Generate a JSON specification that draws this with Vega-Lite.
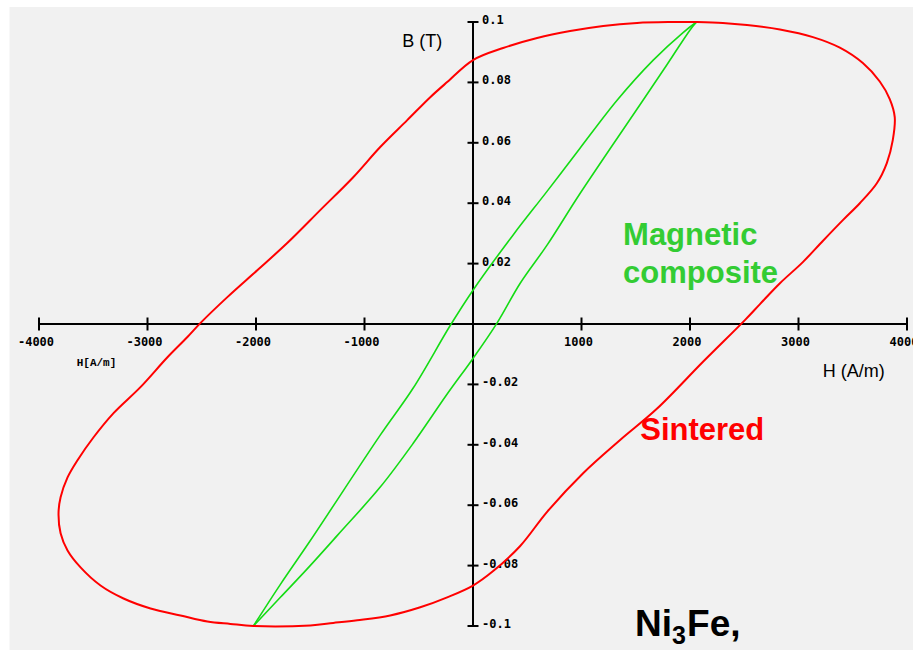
{
  "$schema": "https://vega.github.io/schema/vega-lite/v6.json",
  "width": 868,
  "height": 604,
  "autosize": {"type": "none"},
  "padding": {"left": 39, "top": 22, "right": 6, "bottom": 24},
  "background": "white",
  "config": {"view": {"stroke": null}},
  "datasets": {
    "bg": [{"H": -4272, "H2": 4300, "B": 0.105, "B2": -0.12}],
    "red": [
      {"i":0,"H":2303,"B":0.0997},
      {"i":1,"H":2065,"B":0.1},{"i":2,"H":1816,"B":0.1},{"i":3,"H":1512,"B":0.0997},{"i":4,"H":1200,"B":0.0987},
      {"i":5,"H":895,"B":0.0970},{"i":6,"H":591,"B":0.0947},{"i":7,"H":278,"B":0.0914},{"i":8,"H":0,"B":0.0874},
      {"i":9,"H":-238,"B":0.0801},{"i":10,"H":-394,"B":0.0751},{"i":11,"H":-606,"B":0.0675},{"i":12,"H":-855,"B":0.0586},
      {"i":13,"H":-1104,"B":0.0486},{"i":14,"H":-1408,"B":0.0377},{"i":15,"H":-1712,"B":0.0268},{"i":16,"H":-1988,"B":0.0178},
      {"i":17,"H":-2264,"B":0.0089},{"i":18,"H":-2513,"B":0.0003},{"i":19,"H":-2632,"B":-0.0043},{"i":20,"H":-2816,"B":-0.0110},
      {"i":21,"H":-3065,"B":-0.0209},{"i":22,"H":-3313,"B":-0.0295},{"i":23,"H":-3497,"B":-0.0375},{"i":24,"H":-3645,"B":-0.0451},
      {"i":25,"H":-3737,"B":-0.0508},{"i":26,"H":-3801,"B":-0.0574},{"i":27,"H":-3820,"B":-0.0627},{"i":28,"H":-3801,"B":-0.0693},
      {"i":29,"H":-3737,"B":-0.0750},{"i":30,"H":-3617,"B":-0.0806},{"i":31,"H":-3433,"B":-0.0866},{"i":32,"H":-3221,"B":-0.0909},
      {"i":33,"H":-2972,"B":-0.0942},{"i":34,"H":-2696,"B":-0.0965},{"i":35,"H":-2448,"B":-0.0985},{"i":36,"H":-2236,"B":-0.0993},
      {"i":37,"H":-2024,"B":-0.1},{"i":38,"H":-1499,"B":-0.0998},{"i":39,"H":-1288,"B":-0.0990},{"i":40,"H":-1067,"B":-0.0981},
      {"i":41,"H":-763,"B":-0.0965},{"i":42,"H":-486,"B":-0.0938},{"i":43,"H":-238,"B":-0.0905},{"i":44,"H":0,"B":-0.0866},
      {"i":45,"H":186,"B":-0.0818},{"i":46,"H":435,"B":-0.0735},{"i":47,"H":683,"B":-0.0622},{"i":48,"H":1015,"B":-0.0494},
      {"i":49,"H":1356,"B":-0.0384},{"i":50,"H":1697,"B":-0.0280},{"i":51,"H":2120,"B":-0.0125},{"i":52,"H":2506,"B":0.0013},
      {"i":53,"H":2645,"B":0.0066},{"i":54,"H":2829,"B":0.0135},{"i":55,"H":3040,"B":0.0205},{"i":56,"H":3224,"B":0.0275},
      {"i":57,"H":3409,"B":0.0344},{"i":58,"H":3565,"B":0.0400},{"i":59,"H":3722,"B":0.0466},{"i":60,"H":3814,"B":0.0533},
      {"i":61,"H":3869,"B":0.0609},{"i":62,"H":3887,"B":0.0685},{"i":63,"H":3841,"B":0.0745},{"i":64,"H":3749,"B":0.0803},
      {"i":65,"H":3593,"B":0.0864},{"i":66,"H":3381,"B":0.0915},{"i":67,"H":3133,"B":0.0950},{"i":68,"H":2829,"B":0.0975},
      {"i":69,"H":2525,"B":0.0990},{"i":70,"H":2303,"B":0.0997},{"i":71,"H":2065,"B":0.1},{"i":72,"H":1816,"B":0.1}
    ],
    "green": [
      {"br":"a","i":1,"H":-2024,"B":-0.1},{"br":"a","i":2,"H":-1775,"B":-0.0862},{"br":"a","i":3,"H":-1499,"B":-0.0717},{"br":"a","i":4,"H":-855,"B":-0.0368},
      {"br":"a","i":5,"H":-551,"B":-0.0212},{"br":"a","i":6,"H":-210,"B":-0.0005},{"br":"a","i":7,"H":0,"B":0.0112},{"br":"a","i":8,"H":370,"B":0.0295},
      {"br":"a","i":9,"H":684,"B":0.044},{"br":"a","i":10,"H":988,"B":0.0583},{"br":"a","i":11,"H":1328,"B":0.0741},{"br":"a","i":12,"H":1659,"B":0.0873},
      {"br":"a","i":13,"H":1936,"B":0.0965},{"br":"a","i":14,"H":2060,"B":0.1},
      {"br":"b","i":15,"H":2060,"B":0.1},{"br":"b","i":16,"H":1999,"B":0.0973},{"br":"b","i":17,"H":1816,"B":0.0874},{"br":"b","i":18,"H":1567,"B":0.0741},{"br":"b","i":19,"H":988,"B":0.0433},
      {"br":"b","i":20,"H":684,"B":0.0262},{"br":"b","i":21,"H":435,"B":0.0135},{"br":"b","i":22,"H":221,"B":0.0003},{"br":"b","i":23,"H":0,"B":-0.0114},
      {"br":"b","i":24,"H":-238,"B":-0.0232},{"br":"b","i":25,"H":-551,"B":-0.0395},{"br":"b","i":26,"H":-855,"B":-0.0540},{"br":"b","i":27,"H":-1250,"B":-0.070},
      {"br":"b","i":28,"H":-1526,"B":-0.081},{"br":"b","i":29,"H":-1775,"B":-0.0905},{"br":"b","i":30,"H":-2024,"B":-0.1}
    ],
    "axes": [
      {"H": -4000, "H2": 4000, "B": 0, "B2": 0},
      {"H": 0, "H2": 0, "B": -0.1, "B2": 0.1}
    ],
    "xt": [
      {"H":-4000,"B":0,"t":"-4000"},{"H":-3000,"B":0,"t":"-3000"},{"H":-2000,"B":0,"t":"-2000"},{"H":-1000,"B":0,"t":"-1000"},
      {"H":1000,"B":0,"t":"1000"},{"H":2000,"B":0,"t":"2000"},{"H":3000,"B":0,"t":"3000"},{"H":4000,"B":0,"t":"4000"}
    ],
    "yt": [
      {"H":0,"B":0.1,"t":"0.1"},{"H":0,"B":0.08,"t":"0.08"},{"H":0,"B":0.06,"t":"0.06"},{"H":0,"B":0.04,"t":"0.04"},
      {"H":0,"B":0.02,"t":"0.02"},{"H":0,"B":-0.02,"t":"-0.02"},{"H":0,"B":-0.04,"t":"-0.04"},{"H":0,"B":-0.06,"t":"-0.06"},
      {"H":0,"B":-0.08,"t":"-0.08"},{"H":0,"B":-0.1,"t":"-0.1"}
    ],
    "labels": [
      {"k":"title","t":"B (T)","H":-468,"B":0.0935},
      {"k":"title","t":"H (A/m)","H":3510,"B":-0.016},
      {"k":"small","t":"H[A/m]","H":-3470,"B":-0.013},
      {"k":"green","t":"Magnetic","H":1383,"B":0.0261},
      {"k":"green","t":"composite","H":1383,"B":0.0135},
      {"k":"red","t":"Sintered","H":1541,"B":-0.0385},
      {"k":"big","t":"Ni","H":1494,"B":-0.1034},
      {"k":"sub","t":"3","H":1835,"B":-0.1061},
      {"k":"big","t":"Fe,","H":1973,"B":-0.1034}
    ]
  },
  "encoding": {
    "x": {"field": "H", "type": "quantitative", "scale": {"domain": [-4000, 4000], "nice": false, "zero": false}, "axis": null},
    "y": {"field": "B", "type": "quantitative", "scale": {"domain": [-0.1, 0.1], "nice": false, "zero": false}, "axis": null}
  },
  "layer": [
    {
      "data": {"name": "bg"},
      "mark": {"type": "rect", "fill": "#f1f1f1", "clip": false},
      "encoding": {"x2": {"field": "H2"}, "y2": {"field": "B2"}}
    },
    {
      "data": {"name": "axes"},
      "mark": {"type": "rule", "color": "#000000", "strokeWidth": 2},
      "encoding": {"x2": {"field": "H2"}, "y2": {"field": "B2"}}
    },
    {
      "data": {"name": "xt"},
      "mark": {"type": "tick", "orient": "vertical", "size": 13, "thickness": 2, "color": "#000000", "opacity": 1}
    },
    {
      "data": {"name": "yt"},
      "mark": {"type": "tick", "orient": "horizontal", "size": 11, "thickness": 2, "color": "#000000", "opacity": 1}
    },
    {
      "data": {"name": "xt"},
      "mark": {"type": "text", "font": "DejaVu Sans Mono", "fontWeight": "bold", "fontSize": 12, "color": "#000000", "align": "center", "baseline": "middle", "dy": 18, "dx": -3},
      "encoding": {"text": {"field": "t"}}
    },
    {
      "data": {"name": "yt"},
      "mark": {"type": "text", "font": "DejaVu Sans Mono", "fontWeight": "bold", "fontSize": 12, "color": "#000000", "align": "left", "baseline": "middle", "dx": 9, "dy": -2},
      "encoding": {"text": {"field": "t"}}
    },
    {
      "data": {"name": "green"},
      "mark": {"type": "line", "color": "#14dc14", "strokeWidth": 1.6, "clip": false, "interpolate": "catmull-rom"},
      "encoding": {"detail": {"field": "br"}, "order": {"field": "i", "type": "quantitative"}}
    },
    {
      "data": {"name": "red"},
      "transform": [{"filter": "datum.i >= 1 && datum.i <= 71"}],
      "mark": {"type": "line", "color": "#ff0000", "strokeWidth": 2, "clip": false, "interpolate": "catmull-rom"},
      "encoding": {"order": {"field": "i", "type": "quantitative"}}
    },
    {
      "data": {"name": "labels"},
      "transform": [{"filter": "datum.k == 'title'"}],
      "mark": {"type": "text", "font": "Liberation Sans", "fontSize": 18, "color": "#000000", "align": "center", "baseline": "middle"},
      "encoding": {"text": {"field": "t"}}
    },
    {
      "data": {"name": "labels"},
      "transform": [{"filter": "datum.k == 'small'"}],
      "mark": {"type": "text", "font": "Liberation Mono", "fontWeight": "bold", "fontSize": 11, "color": "#000000", "align": "center", "baseline": "middle"},
      "encoding": {"text": {"field": "t"}}
    },
    {
      "data": {"name": "labels"},
      "transform": [{"filter": "datum.k == 'green'"}],
      "mark": {"type": "text", "font": "Liberation Sans", "fontWeight": "bold", "fontSize": 31, "color": "#33cc33", "align": "left", "baseline": "alphabetic"},
      "encoding": {"text": {"field": "t"}}
    },
    {
      "data": {"name": "labels"},
      "transform": [{"filter": "datum.k == 'red'"}],
      "mark": {"type": "text", "font": "Liberation Sans", "fontWeight": "bold", "fontSize": 31, "color": "#ff0000", "align": "left", "baseline": "alphabetic"},
      "encoding": {"text": {"field": "t"}}
    },
    {
      "data": {"name": "labels"},
      "transform": [{"filter": "datum.k == 'big'"}],
      "mark": {"type": "text", "font": "Liberation Sans", "fontWeight": "bold", "fontSize": 37, "color": "#000000", "align": "left", "baseline": "alphabetic"},
      "encoding": {"text": {"field": "t"}}
    },
    {
      "data": {"name": "labels"},
      "transform": [{"filter": "datum.k == 'sub'"}],
      "mark": {"type": "text", "font": "Liberation Sans", "fontWeight": "bold", "fontSize": 25, "color": "#000000", "align": "left", "baseline": "alphabetic"},
      "encoding": {"text": {"field": "t"}}
    }
  ]
}
